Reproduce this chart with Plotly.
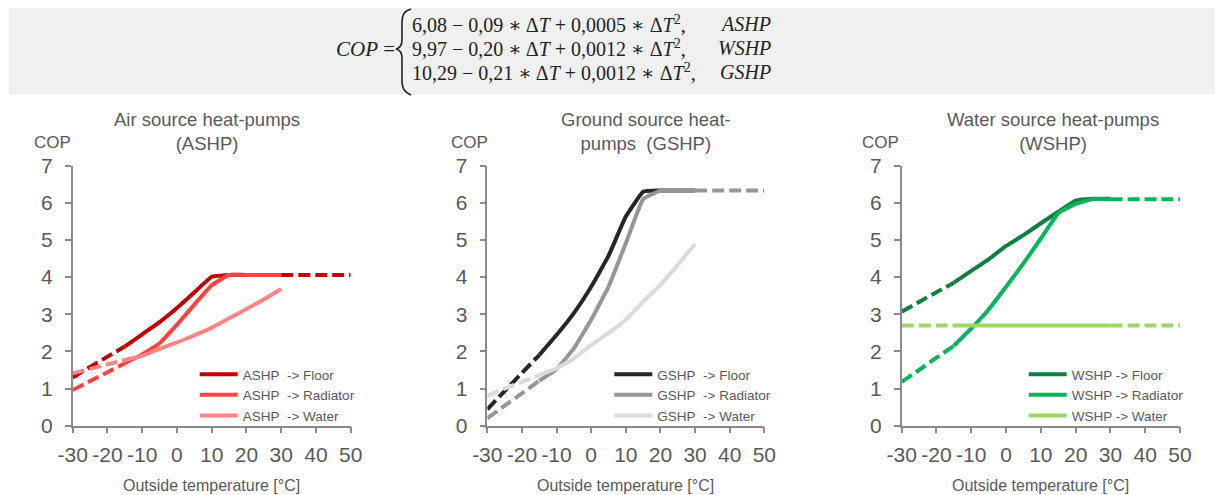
import plotly.graph_objects as go

W, H = 1215, 495

# ---------------- data ----------------
T = [-30, -25, -20, -15, -10, -5, 0, 5, 10, 15, 20, 25, 30, 35, 40, 45, 50]
X_TICKS = [-30, -20, -10, 0, 10, 20, 30, 40, 50]
X_TICK_LABELS = ["-30", "-20", "-10", "0", "10", "20", "30", "40", "50"]
Y_TICKS = [0, 1, 2, 3, 4, 5, 6, 7]
N = None

ashp_floor = [1.30, 1.58, 1.86, 2.13, 2.46, 2.79, 3.17, 3.59, 4.01, 4.06, 4.06, 4.06, 4.06, 4.06, 4.06, 4.06, 4.06]
ashp_radiator = [0.96, 1.20, 1.44, 1.68, 1.92, 2.22, 2.72, 3.26, 3.78, 4.06, 4.06, 4.06, 4.06, N, N, N, N]
ashp_water = [1.41, 1.53, 1.65, 1.77, 1.88, 2.07, 2.24, 2.43, 2.64, 2.89, 3.14, 3.40, 3.68, N, N, N, N]

gshp_floor = [0.44, 0.93, 1.42, 1.90, 2.44, 3.03, 3.74, 4.57, 5.63, 6.30, 6.33, 6.33, 6.33, N, N, N, N]
gshp_radiator = [0.20, 0.54, 0.87, 1.21, 1.52, 2.08, 2.85, 3.74, 4.91, 6.10, 6.33, 6.33, 6.33, 6.33, 6.33, 6.33, 6.33]
gshp_water = [0.81, 1.00, 1.18, 1.36, 1.54, 1.81, 2.17, 2.49, 2.85, 3.34, 3.79, 4.33, 4.89, N, N, N, N]

wshp_floor = [3.07, 3.33, 3.59, 3.85, 4.17, 4.48, 4.84, 5.13, 5.45, 5.76, 6.06, 6.11, 6.11, N, N, N, N]
wshp_radiator = [1.18, 1.50, 1.83, 2.15, 2.62, 3.13, 3.74, 4.37, 5.04, 5.72, 5.97, 6.10, 6.10, 6.10, 6.10, 6.10, 6.10]
wshp_water = [2.70, 2.70, 2.70, 2.70, 2.70, 2.70, 2.70, 2.70, 2.70, 2.70, 2.70, 2.70, 2.70, 2.70, 2.70, 2.70, 2.70]

TITLES = ["Air source heat-pumps<br>(ASHP)",
          "Ground source heat-<br>pumps\u00a0\u00a0(GSHP)",
          "Water source heat-pumps<br>(WSHP)"]
SERIES = [
    [("ASHP\u00a0\u00a0-> Floor", ashp_floor, "#c00000"),
     ("ASHP\u00a0\u00a0-> Radiator", ashp_radiator, "#ff4343"),
     ("ASHP\u00a0\u00a0-> Water", ashp_water, "#ff8585")],
    [("GSHP\u00a0\u00a0-> Floor", gshp_floor, "#262626"),
     ("GSHP\u00a0\u00a0-> Radiator", gshp_radiator, "#969696"),
     ("GSHP\u00a0\u00a0-> Water", gshp_water, "#dadada")],
    [("WSHP -> Floor", wshp_floor, "#0e7f41"),
     ("WSHP -> Radiator", wshp_radiator, "#06b45a"),
     ("WSHP -> Water", wshp_water, "#9fd668")],
]
X_LABEL = "Outside temperature [°C]"
Y_LABEL = "COP"

FORMULA = ["6,08 − 0,09 ∗ Δ<i>T</i> + 0,0005 ∗ Δ<i>T</i><sup>2</sup>,",
           "9,97 − 0,20 ∗ Δ<i>T</i> + 0,0012 ∗ Δ<i>T</i><sup>2</sup>,",
           "10,29 − 0,21 ∗ Δ<i>T</i> + 0,0012 ∗ Δ<i>T</i><sup>2</sup>,"]
FORMULA_TAGS = ["ASHP", "WSHP", "GSHP"]

# ---------------- layout helpers ----------------
def px(x):
    return x / W


def py(y):
    return 1 - y / H


PLOT_X = [(72.7, 350.7), (487.3, 764.3), (901.7, 1180.0)]
PLOT_TOP, PLOT_BOT = 165.7, 425.7
GRAY_TXT = "#595959"
AXIS_COL = "#8a8a8a"
SANS = "Liberation Sans, Arial, sans-serif"
SERIF = "Liberation Serif, DejaVu Serif, serif"
DASH = "12px,5px"


def seg(vals, lo, hi):
    xs, ys = [], []
    for t, v in zip(T, vals):
        if lo <= t <= hi and v is not None:
            xs.append(t)
            ys.append(v)
    return xs, ys


fig = go.Figure()
legend_ids = ["legend", "legend2", "legend3"]

for i, series in enumerate(SERIES):
    xa = "x" if i == 0 else f"x{i+1}"
    ya = "y" if i == 0 else f"y{i+1}"
    for name, vals, col in series:
        for lo, hi, dash, show in [(-30, -15, DASH, False), (-15, 30, "solid", True), (30, 50, DASH, False)]:
            xs, ys = seg(vals, lo, hi)
            if len(xs) < 2:
                continue
            fig.add_trace(go.Scatter(
                x=xs, y=ys, mode="lines", name=name,
                line=dict(color=col, width=4, dash=dash, shape="spline", smoothing=0.3),
                showlegend=show, legend=legend_ids[i], xaxis=xa, yaxis=ya,
                hoverinfo="skip"))

layout = dict(
    width=W, height=H, margin=dict(l=0, r=0, t=0, b=0, autoexpand=False),
    paper_bgcolor="white", plot_bgcolor="white",
    font=dict(family=SANS, color=GRAY_TXT),
)

for i, (x0, x1) in enumerate(PLOT_X):
    sfx = "" if i == 0 else str(i + 1)
    layout["xaxis" + sfx] = dict(
        domain=[px(x0), px(x1)], range=[-30, 50], tickvals=X_TICKS, ticktext=X_TICK_LABELS,
        tickangle=0, ticks="outside", ticklen=6, tickwidth=1.5, tickcolor=AXIS_COL,
        showline=True, linecolor=AXIS_COL, linewidth=1.5, automargin=False,
        showgrid=False, zeroline=False, fixedrange=True,
        anchor="y" + sfx, tickfont=dict(size=21, color=GRAY_TXT, family=SANS),
        ticklabelstandoff=3)
    layout["yaxis" + sfx] = dict(
        domain=[py(PLOT_BOT), py(PLOT_TOP)], range=[0, 7], tickvals=Y_TICKS,
        ticks="outside", ticklen=6, tickwidth=1.5, tickcolor=AXIS_COL,
        showline=True, linecolor=AXIS_COL, linewidth=1.5, automargin=False,
        showgrid=False, zeroline=False, fixedrange=True,
        anchor="x" + sfx, tickfont=dict(size=21, color=GRAY_TXT, family=SANS),
        ticklabelstandoff=8)
    layout[legend_ids[i]] = dict(
        x=px(x0 + 122), y=py(359), xanchor="left", yanchor="top",
        bgcolor="rgba(0,0,0,0)", font=dict(size=13.5, color=GRAY_TXT, family=SANS),
        tracegroupgap=0, itemwidth=38)

fig.update_layout(**layout)

annotations = []
TITLE_CX = [207, 646, 1053]
COP_CX = [52, 469, 880]
for i in range(3):
    annotations.append(dict(text=TITLES[i], x=px(TITLE_CX[i]), y=py(132), xref="paper", yref="paper",
                            showarrow=False, xanchor="center", yanchor="middle",
                            font=dict(size=18.5, color=GRAY_TXT, family=SANS)))
    annotations.append(dict(text=Y_LABEL, x=px(COP_CX[i]), y=py(142), xref="paper", yref="paper",
                            showarrow=False, xanchor="center", yanchor="middle",
                            font=dict(size=17, color=GRAY_TXT, family=SANS)))
    cx = (PLOT_X[i][0] + PLOT_X[i][1]) / 2
    annotations.append(dict(text=X_LABEL, x=px(cx), y=py(485), xref="paper", yref="paper",
                            showarrow=False, xanchor="center", yanchor="middle",
                            font=dict(size=16, color=GRAY_TXT, family=SANS)))

# formula
annotations.append(dict(text="<i>COP</i> =", x=px(397), y=py(49), xref="paper", yref="paper",
                        showarrow=False, xanchor="right", yanchor="middle",
                        font=dict(size=21, color="#222222", family=SERIF)))
FY = [24, 48, 72]
for j in range(3):
    annotations.append(dict(text=FORMULA[j], x=px(410), y=py(FY[j]), xref="paper", yref="paper",
                            showarrow=False, xanchor="left", yanchor="middle",
                            font=dict(size=20, color="#222222", family=SERIF)))
    annotations.append(dict(text="<i>" + FORMULA_TAGS[j] + "</i>", x=px(773), y=py(FY[j]), xref="paper",
                            yref="paper", showarrow=False, xanchor="right", yanchor="middle",
                            font=dict(size=20, color="#222222", family=SERIF)))

fig.update_layout(annotations=annotations)

# formula background box and brace
def pp(x, y):
    return f"{px(x):.5f},{py(y):.5f}"

brace = ("M " + pp(411, 9) + " C " + pp(404, 11) + " " + pp(402, 15) + " " + pp(402, 22) +
         " L " + pp(402, 40) + " C " + pp(402, 45) + " " + pp(400, 48) + " " + pp(396, 49) +
         " C " + pp(400, 50) + " " + pp(402, 53) + " " + pp(402, 58) +
         " L " + pp(402, 80) + " C " + pp(402, 88) + " " + pp(404, 92) + " " + pp(411, 95))
fig.update_layout(shapes=[
    dict(type="rect", xref="paper", yref="paper", x0=px(9), x1=1.0, y0=py(94), y1=py(8),
         fillcolor="#f0f0f0", line=dict(width=0), layer="below"),
    dict(type="path", xref="paper", yref="paper", path=brace,
         line=dict(color="#222222", width=1.6)),
])

fig.write_html("out.html")
